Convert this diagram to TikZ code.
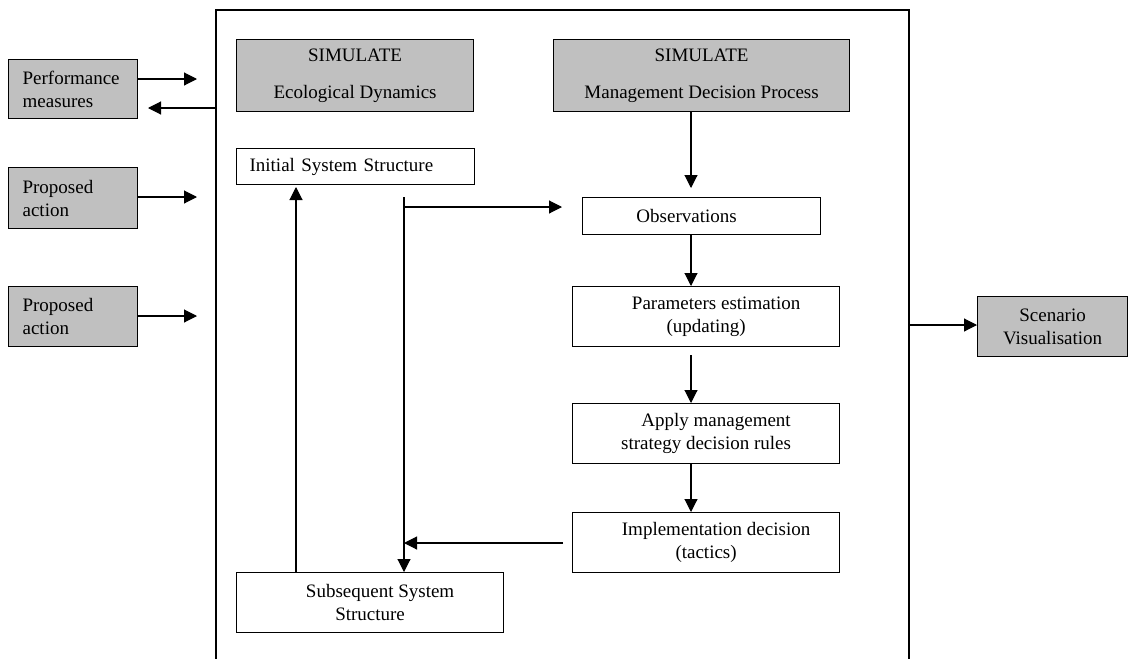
\documentclass[tikz,border=0pt]{standalone}
\usepackage{fontspec}
\setmainfont{Liberation Serif}
\usetikzlibrary{arrows.meta}
\definecolor{boxgray}{RGB}{192,192,192}
\tikzset{
  box/.style={draw=black, line width=1.2pt, inner sep=0pt, anchor=north west, align=center,
    font=\fontsize{19}{23}\selectfont},
  gbox/.style={box, fill=boxgray},
  leftbox/.style={text width=#1, align=left, inner xsep=14pt},
  conn/.style={line width=1.1pt, -{Triangle[length=13pt,width=13pt]}},
  plain/.style={line width=1.1pt}
}
\begin{document}
\begin{tikzpicture}[x=1pt,y=-1pt]
\useasboundingbox (0,0) rectangle (1128,659);
% frame (open at bottom)
\draw[line width=1.2pt] (216,659) -- (216,10) -- (909,10) -- (909,659);
\coordinate (frameL1) at (216,108);
\coordinate (frameR) at (909,325);

% left input boxes
\node[gbox, leftbox=101pt, minimum width=129pt, minimum height=59pt] (perf) at (8,59) {Performance\\measures};
\node[gbox, leftbox=101pt, minimum width=129pt, minimum height=61pt] (prop1) at (8,167) {Proposed\\action};
\node[gbox, leftbox=101pt, minimum width=129pt, minimum height=60pt] (prop2) at (8,286) {Proposed\\action};

% simulate boxes
\node[gbox, minimum width=237pt, minimum height=72pt] (eco) at (236,39) {SIMULATE\\[14pt]Ecological Dynamics};
\node[gbox, minimum width=296pt, minimum height=72pt] (mdp) at (553,39) {SIMULATE\\[14pt]Management Decision Process};

% structure boxes
\node[box, text width=212pt, align=left, inner xsep=13pt, minimum height=36pt] (init) at (236,148) {Initial System Structure};
\node[box, minimum width=267pt, minimum height=60pt] (subs) at (236,572) {\hspace*{20pt}Subsequent System\\Structure};

% management chain
\node[box, minimum width=238pt, minimum height=37pt] (obs) at (582,197) {Observations\hspace*{30pt}};
\node[box, minimum width=267pt, minimum height=60pt] (par) at (572,286) {\hspace*{20pt}Parameters estimation\\(updating)};
\node[box, minimum width=267pt, minimum height=60pt] (app) at (572,403) {\hspace*{20pt}Apply management\\strategy decision rules};
\node[box, minimum width=267pt, minimum height=60pt] (imp) at (572,512) {\hspace*{20pt}Implementation decision\\(tactics)};

% output box
\node[gbox, minimum width=150pt, minimum height=60pt] (scen) at (977,296) {Scenario\\Visualisation};

% free ends
\coordinate (perfIn) at (197,79);
\coordinate (perfOut) at (148,108);
\coordinate (p1In) at (197,197);
\coordinate (p2In) at (197,316);
\coordinate (mdpTip) at (691,188);
\coordinate (vTop) at (404,197);
\coordinate (vJoin) at (404,207);
\coordinate (obsTip) at (562,207);
\coordinate (impStart) at (563,543);
\coordinate (vMid) at (404,543);
\coordinate (upStart) at (296,572);
\coordinate (upTip) at (296,187);
\coordinate (parStart) at (691,355);
\coordinate (appStart) at (691,463);

% connectors
\draw[conn] (perf.east |- perfIn) -- (perfIn);
\draw[conn] (frameL1) -- (perfOut);
\draw[conn] (prop1.east |- p1In) -- (p1In);
\draw[conn] (prop2.east |- p2In) -- (p2In);
\draw[conn] (frameR) -- (scen.west |- frameR);

\draw[conn] (mdp.south -| mdpTip) -- (mdpTip);
\draw[conn] (obs.south -| mdpTip) -- (par.north -| mdpTip);
\draw[conn] (parStart) -- (app.north -| parStart);
\draw[conn] (appStart) -- (imp.north -| appStart);
\draw[conn] (impStart) -- (vMid);

\draw[plain] (vJoin) -- (vTop);
\draw[conn] (vJoin) -- (obsTip);
\draw[conn] (vJoin) -- (subs.north -| vJoin);
\draw[conn] (upStart) -- (upTip);
\end{tikzpicture}
\end{document}
